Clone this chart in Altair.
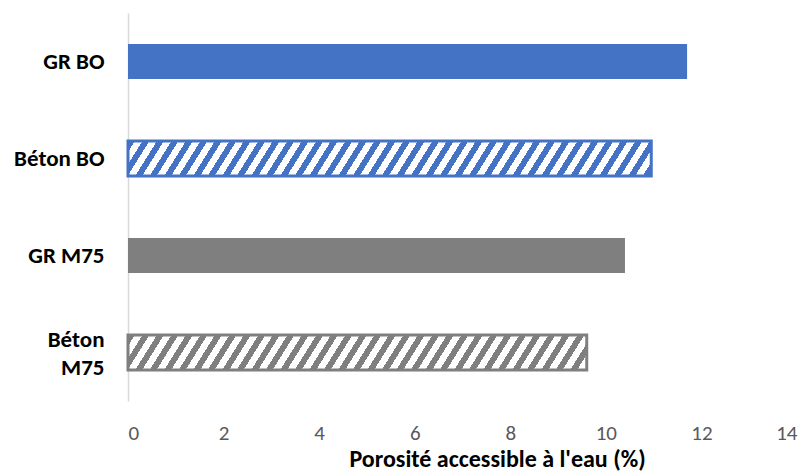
import altair as alt
import pandas as pd

# ---- data ----
categories = ["GR BO", "Béton BO", "GR M75", "Béton M75"]
values = [11.7, 10.95, 10.4, 9.6]
families = ["BO", "BO", "M75", "M75"]
kinds = ["GR", "Béton", "GR", "Béton"]
x_ticks = [0, 2, 4, 6, 8, 10, 12, 14]
x_title = "Porosité accessible à l'eau (%)"

df = pd.DataFrame({"cat": categories, "val": values, "fam": families, "kind": kinds})

# ---- styling ----
BLUE = "#4472C4"
GRAY = "#7F7F7F"
FONT = "Carlito, Lato, sans-serif"
W_PLOT, H_PLOT, X_MAX = 669, 388, 14
PAD_INNER, PAD_OUTER = 0.64, 0.32
BAR_H = H_PLOT / 4 * (1 - PAD_INNER)


def hatch(color, value, k=1.6, period=14.5, frac=0.47):
    """Diagonal stripes as a hard-stop linear gradient (bounding-box units)."""
    w = value * W_PLOT / X_MAX
    h = BAR_H
    r = k * w / h
    s = (r + 1) / (r * r + 1)
    total = k * w + h
    pt = k * period / total
    stops = []
    i = 0
    last = -1.0
    while True:
        a = i * pt
        if a >= 1:
            break
        b = min(a + frac * pt, 1.0)
        c = min((i + 1) * pt, 1.0)
        for off, col in ((a, color), (b, color), (b, "#FFFFFF"), (c, "#FFFFFF")):
            off = round(max(off, last), 5)
            stops.append(alt.GradientStop(offset=off, color=col))
            last = off
        i += 1
    return alt.LinearGradient(gradient="linear", stops=stops,
                              x1=0, y1=0, x2=s * r, y2=s)


y_enc = alt.Y(
    "cat:N", sort=categories, title=None,
    scale=alt.Scale(paddingInner=PAD_INNER, paddingOuter=PAD_OUTER),
    axis=alt.Axis(
        ticks=False, domain=True, domainColor="#D9D9D9", domainWidth=1.5,
        labelFont=FONT, labelFontSize=23, labelFontWeight="bold", labelColor="#000000",
        labelPadding=24, labelLineHeight=28, labelLimit=200,
        labelExpr="datum.value == 'Béton M75' ? ['Béton', 'M75\u00a0\u00a0'] : datum.label",
        labelOffset=alt.condition("datum.value == 'Béton M75'", alt.value(-13), alt.value(0)),
    ),
)
x_enc = alt.X(
    "val:Q",
    scale=alt.Scale(domain=[0, X_MAX], nice=False),
    axis=alt.Axis(
        values=x_ticks, grid=False, domain=False, ticks=False,
        labelFont=FONT, labelFontSize=21, labelColor="#595959", labelPadding=21,
        title=x_title, titleFont=FONT, titleFontSize=24, titleFontWeight="bold",
        titleColor="#000000", titleX=369, titleY=65, titleAlign="center",
        titleBaseline="alphabetic",
    ),
)

base = alt.Chart(df).encode(y=y_enc, x=x_enc)

solid = base.transform_filter(alt.datum.kind == "GR").mark_bar().encode(
    color=alt.Color("fam:N", scale=alt.Scale(domain=["BO", "M75"], range=[BLUE, GRAY]),
                    legend=None)
)
hatched_bo = base.transform_filter(alt.datum.cat == "Béton BO").mark_bar(
    fill=hatch(BLUE, values[1]), stroke=BLUE, strokeWidth=3
)
hatched_m75 = base.transform_filter(alt.datum.cat == "Béton M75").mark_bar(
    fill=hatch(GRAY, values[3]), stroke=GRAY, strokeWidth=3
)

chart = (
    alt.layer(solid, hatched_bo, hatched_m75)
    .properties(
        width=W_PLOT, height=H_PLOT,
        autosize=alt.AutoSizeParams(type="none"),
        padding={"left": 120, "top": 5, "right": 4, "bottom": 71},
        background="#FFFFFF",
    )
    .configure_view(stroke=None)
)

chart.save("out.html", embed_options={"renderer": "svg", "actions": False})
